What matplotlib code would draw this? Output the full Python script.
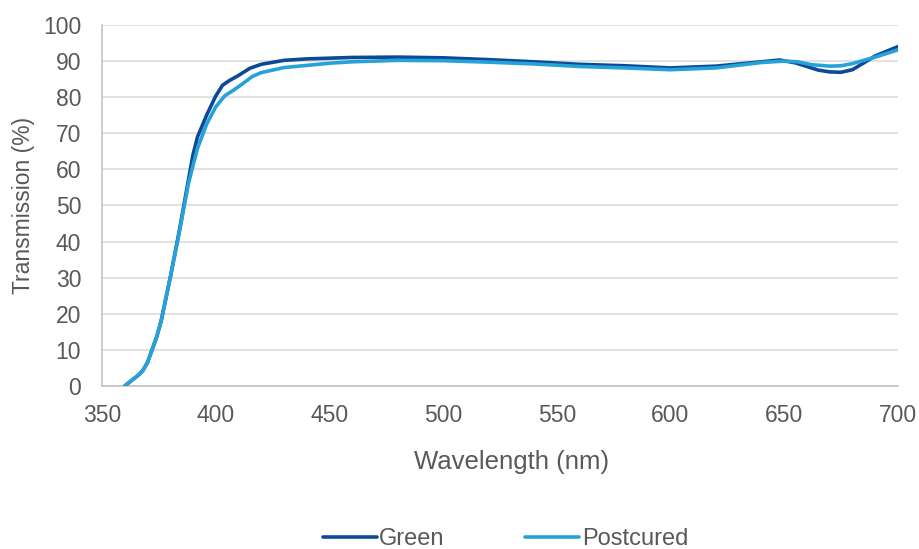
import matplotlib.pyplot as plt

plt.rcParams['font.family'] = ['Liberation Sans', 'DejaVu Sans']

# Green sample: wavelength (nm) / transmission (%)
wl_green = [360, 363, 366, 368, 370, 372, 374, 376, 380, 384, 388, 390, 392, 396,
            400, 403, 406, 410, 415, 420, 430, 440, 450, 460, 480, 500, 520, 540,
            560, 580, 600, 620, 640, 648, 655, 660, 665, 670, 675, 680, 685, 690, 700]
green = [0, 1.5, 3, 4.3, 6.5, 10, 13.5, 18, 30, 43, 57, 64, 69, 75,
         80.3, 83.3, 84.6, 86, 88, 89.1, 90.2, 90.6, 90.8, 91, 91.1, 90.9, 90.4, 89.8,
         89.1, 88.7, 88.1, 88.6, 89.8, 90.3, 89.5, 88.5, 87.5, 87, 86.9, 87.6, 89.5, 91.4, 94]

# Postcured sample
wl_post = [360, 363, 366, 368, 370, 372, 374, 376, 380, 384, 388, 390, 392, 396,
           400, 404, 408, 412, 416, 420, 430, 440, 450, 460, 480, 500, 520, 540,
           560, 580, 600, 620, 640, 650, 656, 662, 670, 675, 680, 690, 700]
postcured = [0, 1.5, 3, 4.3, 6.5, 10, 13.5, 18, 30, 42.5, 56, 61, 65.8, 72.5,
             77.3, 80.4, 82, 83.8, 85.7, 86.8, 88.2, 88.8, 89.4, 89.8, 90.2, 90.1, 89.7, 89.2,
             88.5, 88.1, 87.6, 88.1, 89.6, 90, 89.8, 89, 88.6, 88.7, 89.3, 91.1, 93.1]

text_color = '#595959'

fig = plt.figure(figsize=(9.19, 5.49), dpi=100)
ax = fig.add_axes([0.111, 0.297, 0.866, 0.6575])

ax.plot(wl_green, green, color='#0B4A96', linewidth=2.6, label='Green',
        solid_capstyle='round', solid_joinstyle='round', zorder=3)
ax.plot(wl_post, postcured, color='#27A2D8', linewidth=2.6, label='Postcured',
        solid_capstyle='round', solid_joinstyle='round', zorder=3)

ax.set_xlim(350, 700)
ax.set_ylim(0, 100)
ax.set_xticks(range(350, 701, 50))
ax.set_yticks(range(0, 101, 10))
ax.grid(axis='y', color='#d9d9d9', linewidth=1.1)
ax.set_axisbelow(True)

for side in ['top', 'right']:
    ax.spines[side].set_visible(False)
for side in ['left', 'bottom']:
    ax.spines[side].set_color('#bfbfbf')
    ax.spines[side].set_linewidth(1.1)

ax.tick_params(axis='both', length=0, labelsize=16.5, colors=text_color)
ax.tick_params(axis='x', pad=13)
ax.tick_params(axis='y', pad=15)

ax.set_xlabel('Wavelength (nm)', fontsize=18.5, color=text_color)
ax.xaxis.set_label_coords(0.515, -0.178)
ax.set_ylabel('Transmission (%)', fontsize=16.5, color=text_color, labelpad=6)

fig.legend(loc='center', bbox_to_anchor=(0.55, 0.018), ncol=2, frameon=False,
           fontsize=17, handlelength=2.3, handletextpad=0.1, columnspacing=3.4,
           labelcolor=text_color)

fig.savefig('out.png', dpi=100)
